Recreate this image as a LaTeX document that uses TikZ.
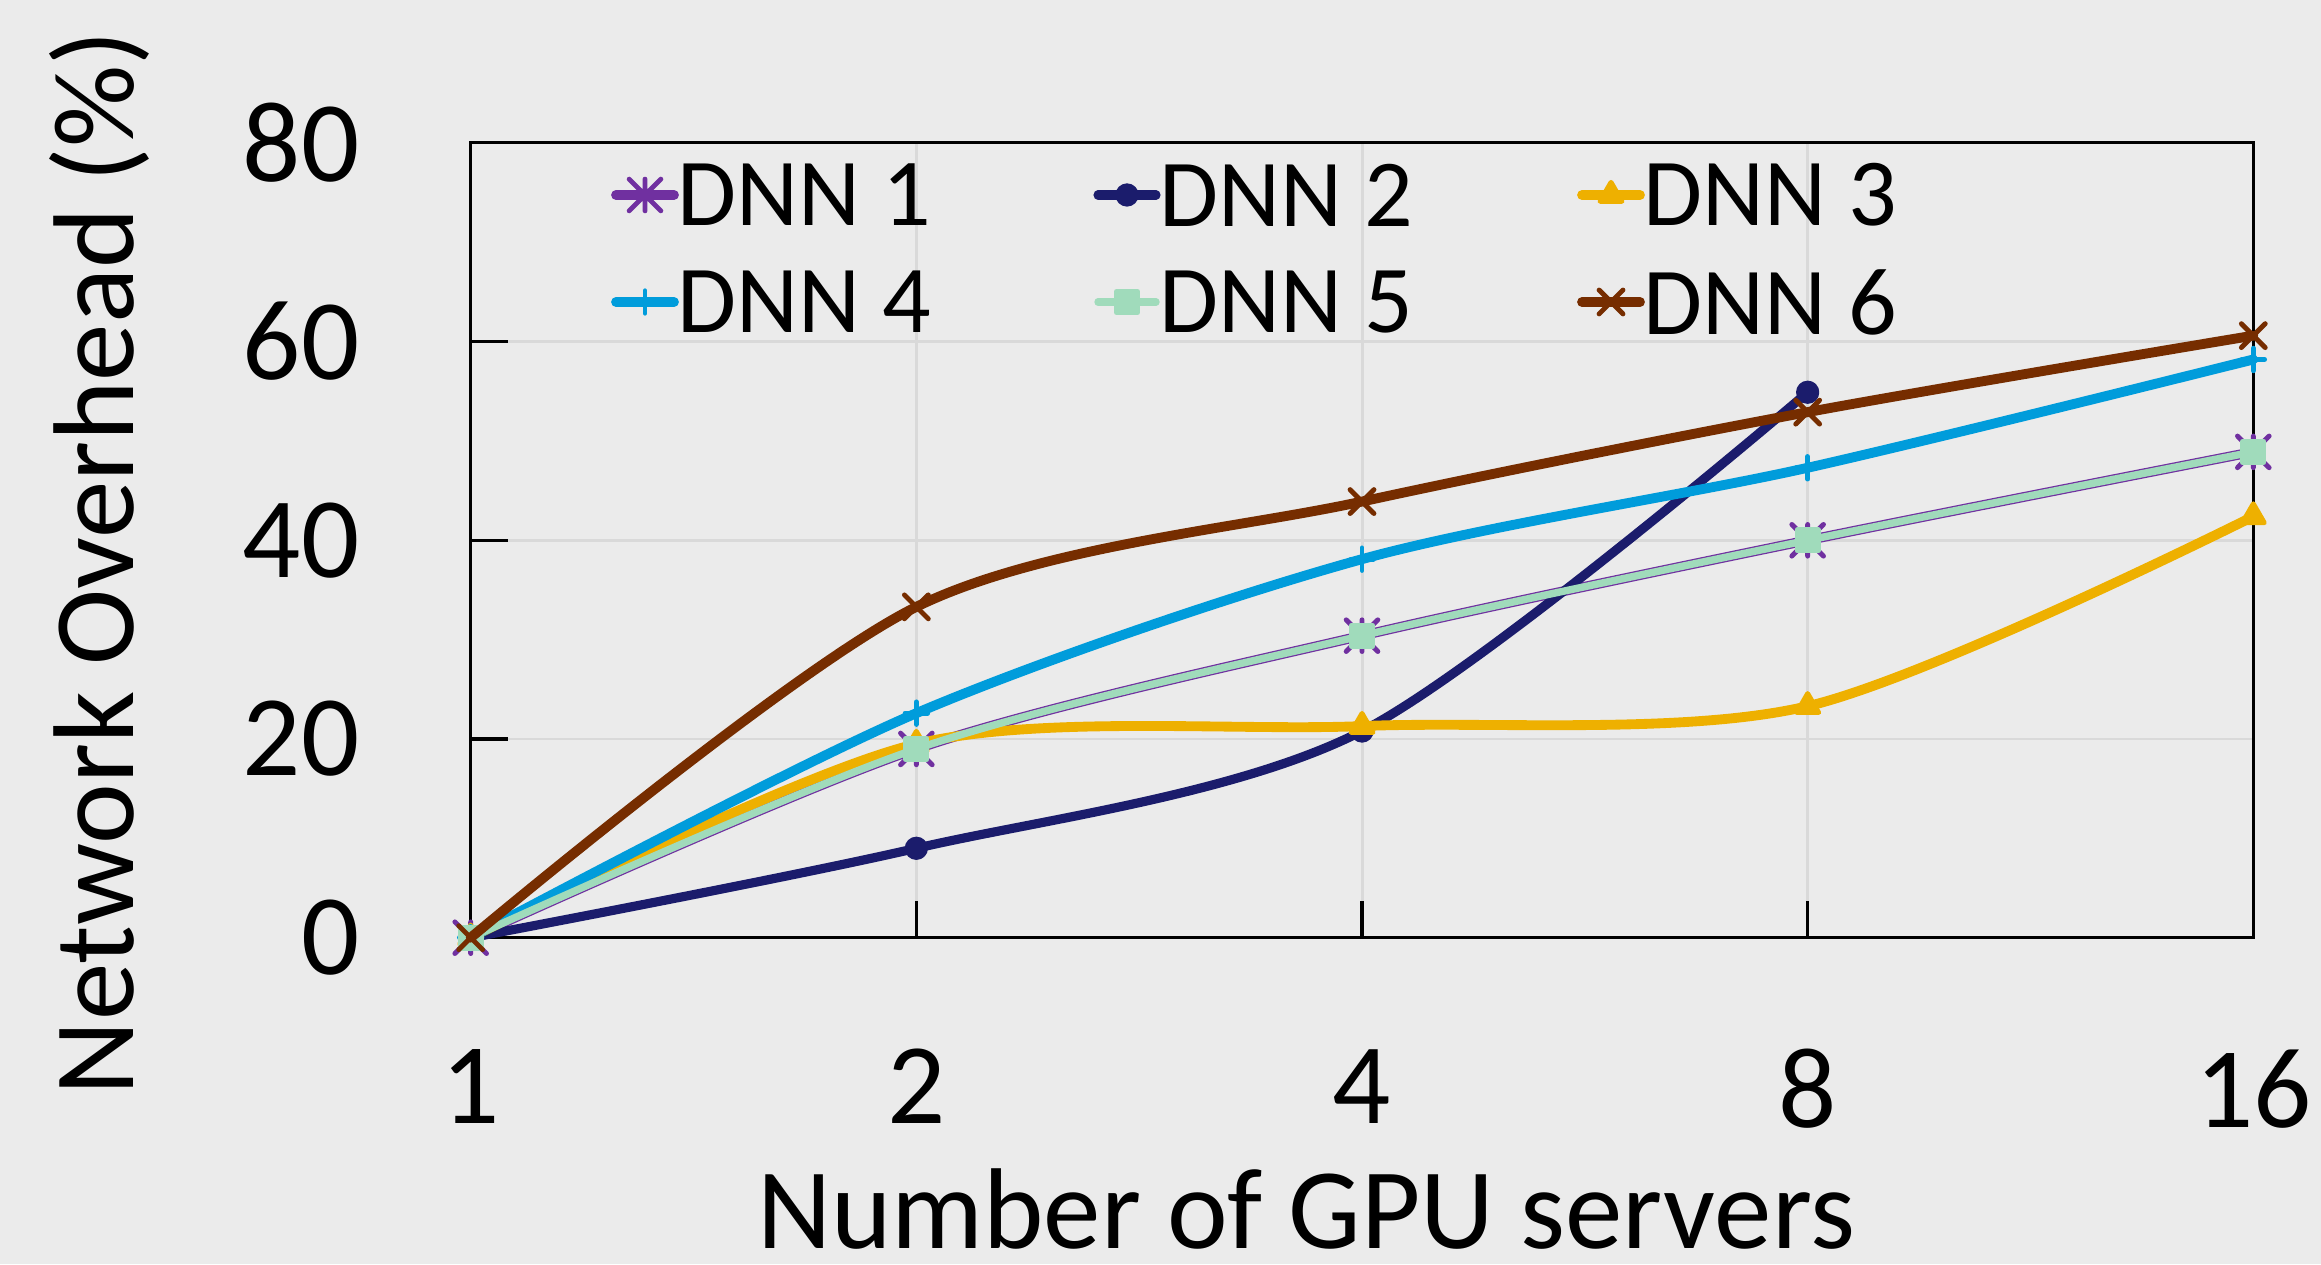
\documentclass[tikz,border=0pt]{standalone}
\usepackage{fontspec}
\setmainfont{Carlito}
\usetikzlibrary{plotmarks,positioning}

\definecolor{bgcol}{HTML}{EBEBEB}
\definecolor{gridcol}{HTML}{D9D9D9}
\definecolor{dnnA}{HTML}{7030A0}
\definecolor{dnnB}{HTML}{1B1C6C}
\definecolor{dnnC}{HTML}{EEB000}
\definecolor{dnnD}{HTML}{009CDB}
\definecolor{dnnE}{HTML}{A0DBBB}
\definecolor{dnnF}{HTML}{762D00}

%% star marker: x with a vertical bar
\pgfdeclareplotmark{xbar}{%
	\pgfpathmoveto{\pgfqpoint{-\pgfplotmarksize}{-\pgfplotmarksize}}%
	\pgfpathlineto{\pgfqpoint{\pgfplotmarksize}{\pgfplotmarksize}}%
	\pgfpathmoveto{\pgfqpoint{-\pgfplotmarksize}{\pgfplotmarksize}}%
	\pgfpathlineto{\pgfqpoint{\pgfplotmarksize}{-\pgfplotmarksize}}%
	\pgfpathmoveto{\pgfqpoint{0pt}{-\pgfplotmarksize}}%
	\pgfpathlineto{\pgfqpoint{0pt}{\pgfplotmarksize}}%
	\pgfusepathqstroke}

\begin{document}
\begin{tikzpicture}
	\tikzset{
		gridline/.style={gridcol,line width=0.85pt},
		axisline/.style={black,line width=0.9pt},
		ticklabel/.style={inner sep=0pt,font=\fontsize{32.7}{39}\selectfont},
		axistitle/.style={inner sep=0pt,font=\fontsize{32.7}{39}\selectfont},
		legtext/.style={inner sep=0pt,font=\fontsize{27.3}{33}\selectfont},
		series/.style={line width=2.8pt,line cap=round,line join=round,
			mark options={solid,line width=1.4pt}},
		dnnone/.style={series,dnnA,mark=xbar,mark size=4.5pt},
		dnntwo/.style={series,dnnB,line width=2.6pt,mark=*,mark size=2.6pt},
		dnnthree/.style={series,dnnC,mark=triangle*,mark size=3.6pt},
		dnnfour/.style={series,dnnD,mark=+,mark size=3.2pt},
		dnnfive/.style={series,dnnE,line width=2.1pt,mark=square*,mark size=3pt},
		dnnsix/.style={series,dnnF,mark=x,mark size=4.8pt}
	}
	\useasboundingbox (0,0) rectangle (23.21,12.64);
	\fill[bgcol] (0,0) rectangle (23.21,12.64);

	%% Plot area
	\begin{scope}[shift={(4.707,3.263)},x=4.4565cm,y=0.09935cm]
		\foreach \v in {20,40,60} \draw[gridline] (0,\v) -- (4,\v);
		\foreach \c in {1,2,3} \draw[gridline] (\c,0) -- (\c,80);
		\foreach \v in {20,40,60} \draw[axisline] (0,\v) -- ++(0.37cm,0pt);
		\foreach \c in {1,2,3} \draw[axisline] (\c,0) -- ++(0pt,0.37cm);
		\draw[axisline] (0,0) rectangle (4,80);

		\foreach \v in {0,20,...,80}
			\node[ticklabel,anchor=east,xshift=-1.107cm] (yl\v) at (0,\v) {\v};
		\foreach \c/\n in {0/1,1/2,2/4,3/8,4/16}
			\node[ticklabel,anchor=north,yshift=-1.11cm] (xl\n) at (\c,0) {\n};

		%% Series
		\draw[dnnone] plot[smooth] coordinates {(0,0) (1,19.0) (2,30.4) (3,40.0) (4,48.9)};
		\draw[dnntwo] plot[smooth] coordinates {(0,0) (1,9.0) (2,20.8) (3,54.9)};
		\draw[dnnthree] plot[smooth] coordinates {(0,0) (1,19.5) (2,21.3) (3,23.3) (4,42.4)};
		\draw[dnnfour] plot[smooth] coordinates {(0,0) (1,22.6) (2,38.1) (3,47.3) (4,58.2)};
		\draw[dnnfive] plot[smooth] coordinates {(0,0) (1,19.0) (2,30.4) (3,40.0) (4,48.9)};
		\draw[dnnsix] plot[smooth] coordinates {(0,0) (1,33.3) (2,43.9) (3,52.9) (4,60.6)};
	\end{scope}

	%% Legend
	\foreach \s/\t/\x/\y in {dnnone/DNN 1/6.16/10.69, dnntwo/DNN 2/10.98/10.69,
			dnnthree/DNN 3/15.82/10.69, dnnfour/DNN 4/6.16/9.62,
			dnnfive/DNN 5/10.98/9.62, dnnsix/DNN 6/15.82/9.62} {
		\draw[\s] (\x,\y) coordinate (ks) -- ++(0.58,0) coordinate (ke);
		\path[\s] plot coordinates {(\x+0.29,\y)};
		\node[legtext,right=0.03cm of ke] {\t};
	}

	%% Axis titles
	\node[axistitle,rotate=90,anchor=base] (ytitle) at (1.33,7.01) {Network Overhead (\%)};
	\node[axistitle,anchor=base] (xtitle) at (13.06,0.16) {Number of GPU servers};
\end{tikzpicture}
\end{document}
